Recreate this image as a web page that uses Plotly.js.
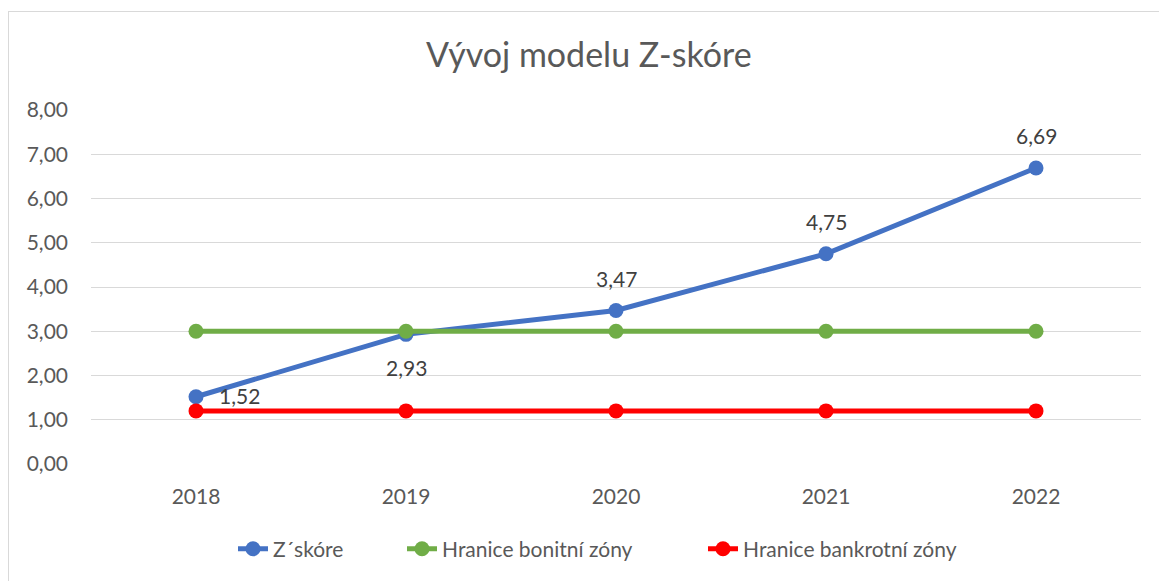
<!DOCTYPE html>
<html><head><meta charset="utf-8">
<script src="https://cdn.plot.ly/plotly-3.0.1.min.js"></script>
<style>html,body{margin:0;padding:0;background:#fff;}#c{width:1159px;height:581px;position:relative;}#b{position:absolute;left:8px;top:11px;width:1160px;height:580px;border:1px solid #d9d9d9;pointer-events:none;box-sizing:border-box;}</style>
</head><body>
<div id="c"></div><div id="b"></div>
<script>
const years = ['2018','2019','2020','2021','2022'];
const zScore = [1.52, 2.93, 3.47, 4.75, 6.69];
const bonitni = [3.0, 3.0, 3.0, 3.0, 3.0];
const bankrotni = [1.2, 1.2, 1.2, 1.2, 1.2];
const names = ['Z´skóre', 'Hranice bonitní zóny', 'Hranice bankrotní zóny'];
const labelPos = ['right', 'below', 'above', 'above', 'above'];

const F = 'Lato, "Open Sans", sans-serif';
const L = 91, R = 18, W = 1159;
const plotW = W - L - R;
const traces = [
  {x: years, y: zScore, name: names[0], type: 'scatter', mode: 'lines+markers', legend: 'legend',
   line: {color: '#4472C4', width: 5}, marker: {color: '#4472C4', size: 15}},
  {x: years, y: bonitni, name: names[1], type: 'scatter', mode: 'lines+markers', legend: 'legend2',
   line: {color: '#70AD47', width: 5}, marker: {color: '#70AD47', size: 15}},
  {x: years, y: bankrotni, name: names[2], type: 'scatter', mode: 'lines+markers', legend: 'legend3',
   line: {color: '#FF0000', width: 5}, marker: {color: '#FF0000', size: 15}}
];
const shifts = {right: [43, 1], below: [0, -33], above: [0, 32]};
const annotations = zScore.map((v, i) => ({
  x: i, y: v, xref: 'x', yref: 'y',
  text: v.toFixed(2).replace('.', ','),
  showarrow: false, xanchor: 'center', yanchor: 'middle',
  xshift: shifts[labelPos[i]][0], yshift: shifts[labelPos[i]][1],
  font: {family: F, size: 21, color: '#404040'}
}));
function leg(px) {
  return {orientation: 'h', x: (px - L) / plotW, xanchor: 'left', y: -0.237, yanchor: 'middle',
          font: {family: F, size: 21, color: '#595959'}, bgcolor: 'rgba(0,0,0,0)'};
}
const layout = {
  width: W, height: 581,
  margin: {l: L, r: R, t: 110, b: 116},
  paper_bgcolor: '#fff', plot_bgcolor: '#fff',
  separators: ', ',
  font: {family: F, color: '#595959', size: 21},
  title: {text: 'Vývoj modelu Z-skóre', x: 0.508, xanchor: 'center', y: 0.905, yanchor: 'middle',
          font: {family: F, size: 34, color: '#595959'}},
  xaxis: {type: 'category', range: [-0.5, 4.5], showgrid: false, zeroline: false,
          showline: false, ticks: '', ticklabelstandoff: 18,
          tickfont: {family: F, size: 21, color: '#595959'}},
  yaxis: {range: [0, 8], dtick: 1, tickformat: '.2f', showgrid: true, gridcolor: '#d9d9d9',
          gridwidth: 1, zeroline: false, showline: false, ticks: '', ticklabelstandoff: 22,
          tickfont: {family: F, size: 21, color: '#595959'}},
  annotations: annotations,
  showlegend: true,
  legend: leg(233),
  legend2: leg(402),
  legend3: leg(703),
  hovermode: false
};
Plotly.newPlot('c', traces, layout, {staticPlot: true, displayModeBar: false});
</script>
</body></html>
